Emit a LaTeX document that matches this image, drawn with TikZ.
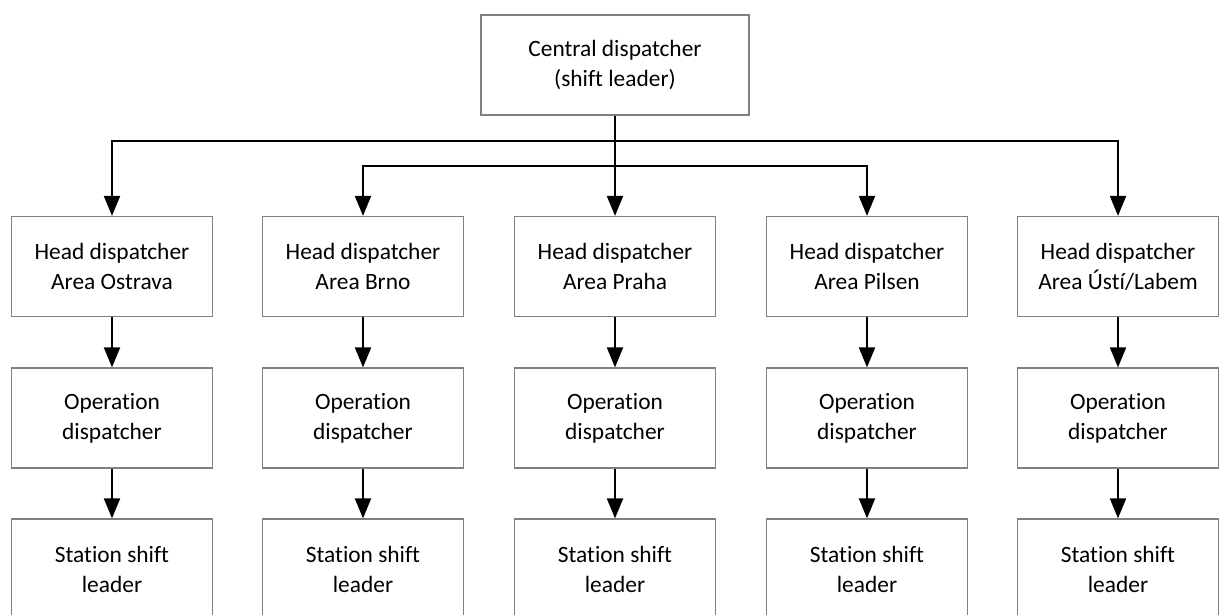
\documentclass[tikz,border=0pt]{standalone}
\usepackage{fontspec}
\setmainfont{Carlito}[Ligatures=NoCommon]
\usetikzlibrary{arrows.meta}
\begin{document}
\begin{tikzpicture}[x=1pt,y=-1pt,
  box/.style={draw=black!50, line width=1.2pt, fill=white, minimum width=201pt,
    minimum height=100pt, inner sep=0pt, align=center,
    font=\fontsize{23.4pt}{30pt}\selectfont},
  arr/.style={line width=2pt, -{Triangle[length=20pt,width=16pt]}}]
  \useasboundingbox (0,0) rectangle (1219,615);
  \clip (0,0) rectangle (1219,615);
  % top of the hierarchy
  \node[box, minimum width=268pt] (c) at (615,65) {Central dispatcher\\(shift leader)};
  % one column per area
  \foreach \n/\x/\area in {o/112/Ostrava, b/363/Brno, p/615/Praha, s/867/Pilsen, u/1118/{Ústí/Labem}} {
    \node[box] (h\n) at (\x,266.5) {Head dispatcher\\Area \area};
    \node[box] (m\n) at (\x,418) {Operation\\dispatcher};
    \node[box] (l\n) at (\x,569) {Station shift\\leader};
    \draw[arr] (h\n.south) -- (m\n.north);
    \draw[arr] (m\n.south) -- (l\n.north);
  }
  % branching lines from the central dispatcher
  \coordinate (j1) at (615,141);
  \coordinate (j2) at (615,166);
  \draw[arr] (c.south) -- (hp.north);
  \draw[arr] (c.south) -- (j1) -| (ho.north);
  \draw[arr] (c.south) -- (j1) -| (hu.north);
  \draw[arr] (c.south) -- (j2) -| (hb.north);
  \draw[arr] (c.south) -- (j2) -| (hs.north);
\end{tikzpicture}
\end{document}
